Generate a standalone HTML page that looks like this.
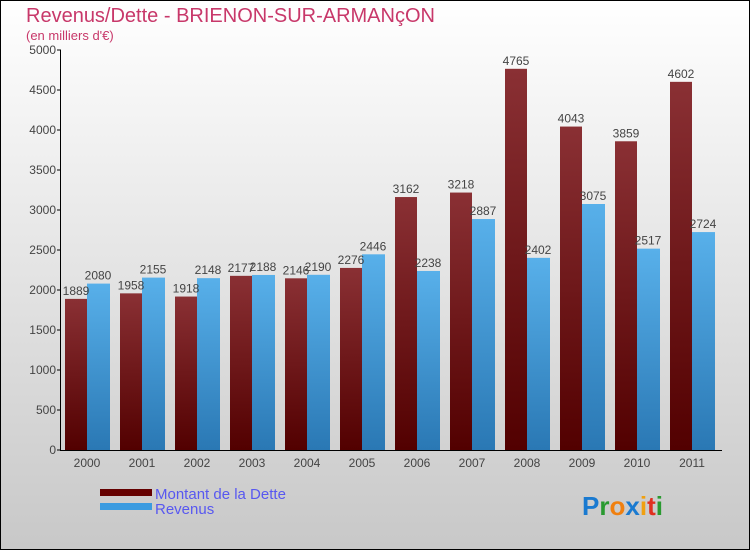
<!DOCTYPE html>
<html><head><meta charset="utf-8"><style>
body{margin:0}
svg{display:block;font-family:"Liberation Sans",sans-serif}
</style></head><body>
<svg id="c" width="750" height="550" xmlns="http://www.w3.org/2000/svg">
<defs>
<linearGradient id="bg" x1="0" y1="0" x2="0" y2="1"><stop offset="0" stop-color="#ffffff"/><stop offset="1" stop-color="#c8c8c8"/></linearGradient>
<linearGradient id="gd" x1="0" y1="0" x2="0" y2="1"><stop offset="0" stop-color="#8a3034"/><stop offset="1" stop-color="#520000"/></linearGradient>
<linearGradient id="gr" x1="0" y1="0" x2="0" y2="1"><stop offset="0" stop-color="#58b0ea"/><stop offset="1" stop-color="#2a78b4"/></linearGradient>
</defs>
<rect x="0.5" y="0.5" width="749" height="549" fill="url(#bg)" stroke="#000"/>
<text x="26" y="22" font-size="20" fill="#c8386a">Revenus/Dette - BRIENON-SUR-ARMANçON</text>
<text x="26" y="40" font-size="13" fill="#c8386a">(en milliers d'€)</text>
<g id="plot"></g>
<rect x="100" y="489" width="52" height="7" fill="#640000"/>
<rect x="100" y="503" width="52" height="7" fill="#3a9be0"/>
<text x="155" y="499" font-size="15" fill="#5858f0">Montant de la Dette</text>
<text x="155" y="514" font-size="15" fill="#5858f0">Revenus</text>
<text x="582" y="515" font-size="26" font-weight="bold"><tspan fill="#1a7ad0">P</tspan><tspan fill="#2a9a30">r</tspan><tspan fill="#f08010">o</tspan><tspan fill="#1a7ad0">x</tspan><tspan fill="#f0a010">i</tspan><tspan fill="#e03020">t</tspan><tspan fill="#2a9a30">i</tspan></text>
</svg>
<script>
const years=["2000","2001","2002","2003","2004","2005","2006","2007","2008","2009","2010","2011"];
const dette=[1889,1958,1918,2177,2146,2276,3162,3218,4765,4043,3859,4602];
const revenus=[2080,2155,2148,2188,2190,2446,2238,2887,2402,3075,2517,2724];
const ticks=[0,500,1000,1500,2000,2500,3000,3500,4000,4500,5000];
const NS="http://www.w3.org/2000/svg";
const g=document.getElementById('plot');
const y=v=>450-v*0.08;
const cx=i=>87+55*i;
function mk(t,a,txt){const e=document.createElementNS(NS,t);for(const k in a)e.setAttribute(k,a[k]);if(txt!==undefined)e.textContent=txt;g.appendChild(e);return e;}
years.forEach((yr,i)=>{
 const b1=mk('rect',{x:cx(i)-22,y:y(dette[i]),width:22,height:450-y(dette[i]),fill:'url(#gd)'});
 
 
 const b2=mk('rect',{x:cx(i),y:y(revenus[i]),width:23,height:450-y(revenus[i]),fill:'url(#gr)'});
 
 
 const l1=mk('text',{x:cx(i)-11,y:y(dette[i])-4,'font-size':12,fill:'#444','text-anchor':'middle'},dette[i]);
 
 
 const l2=mk('text',{x:cx(i)+11,y:y(revenus[i])-4,'font-size':12,fill:'#444','text-anchor':'middle'},revenus[i]);
 
 
 const xl=mk('text',{x:cx(i),y:467,'font-size':12,fill:'#444','text-anchor':'middle'},yr);
 
 
});
ticks.forEach(t=>{
 const tk=mk('line',{x1:57,x2:61,y1:y(t),y2:y(t),stroke:'#000'});
 
 
 const tl=mk('text',{x:56,y:y(t)+4,'font-size':12,fill:'#444','text-anchor':'end'},t);
 
 
});
const ya=mk('line',{x1:60.5,x2:60.5,y1:50,y2:450,stroke:'#000'});


const xa=mk('line',{x1:60,x2:722,y1:450.5,y2:450.5,stroke:'#000'});


</script>
</body></html>
